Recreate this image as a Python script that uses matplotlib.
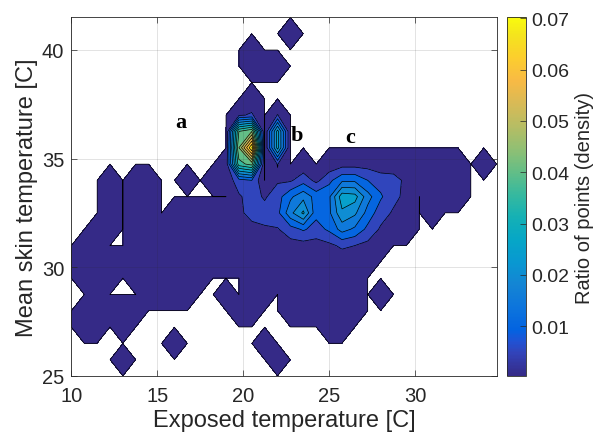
import numpy as np
import matplotlib.pyplot as plt
from matplotlib.colors import LinearSegmentedColormap, Normalize
from matplotlib.cm import ScalarMappable

# grid of the histogram (degrees C)
exposed_temp = np.linspace(10, 34.75, 34)
skin_temp = np.linspace(25, 41.5, 23)

# ratio of points per cell, in units of 1e-3; first row is the top (41.5 C)
density_rows = [
    "0 0 0 0 0 0 0 0 0 0 0 0 0 0 0 0 0 0 0 0 0 0 0 0 0 0 0 0 0 0 0 0 0 0",
    "0 0 0 0 0 0 0 0 0 0 0 0 0 0 0 0 0 1.5 0 0 0 0 0 0 0 0 0 0 0 0 0 0 0 0",
    "0 0 0 0 0 0 0 0 0 0 0 0 0 0 1.5 0 0 0 0 0 0 0 0 0 0 0 0 0 0 0 0 0 0 0",
    "0 0 0 0 0 0 0 0 0 0 0 0 0 0 1.5 1.5 1.5 0 0 0 0 0 0 0 0 0 0 0 0 0 0 0 0 0",
    "0 0 0 0 0 0 0 0 0 0 0 0 0 0 0 0 0 0 0 0 0 0 0 0 0 0 0 0 0 0 0 0 0 0",
    "0 0 0 0 0 0 0 0 0 0 0 0 0 0 1.5 0 0 0 0 0 0 0 0 0 0 0 0 0 0 0 0 0 0 0",
    "0 0 0 0 0 0 0 0 0 0 0 0 0 4.3 5.7 0 5.2 0 0 0 0 0 0 0 0 0 0 0 0 0 0 0 0 0",
    "0 0 0 0 0 0 0 0 0 0 0 0 0 40 45 0 27 0 0 0 0 0 0 0 0 0 0 0 0 0 0 0 0 0",
    "0 0 0 0 0 0 0 0 0 0 0 0 0 45 70.2 0 27 0 0 0 0 0 0 0 0 0 0 0 0 0 0 0 0 0",
    "0 0 0 0 0 0 0 0 0 0 0 0 1.5 38 42 0 5.2 0 1.5 0 1.5 2.9 2.9 2.9 1.5 1.5 1.5 1.5 1.5 1.5 1.5 0 1.5 0",
    "0 0 0 1.5 0 1.5 1.5 0 0 1.5 0 1.5 1.5 7.9 10 0 4.3 4.3 7.9 3.6 8.6 14 14 10 7.9 7.2 3.6 1.5 1.5 1.5 1.5 0 0 0",
    "0 0 0 1.5 0 1.5 1.5 0 0 0 0 0 0 4.3 7.2 4.3 7.9 14 18.5 13 14 28 27 17 10.7 6.4 3.6 0 1.5 1.5 1.5 0 0 0",
    "0 0 0 1.5 0 1.5 1.5 0 1.5 1.5 1.5 1.5 1.5 3.6 7.2 7.2 8.6 18.5 26 11.5 14 24 21 13 7.2 4.3 1.5 0 1.5 0 0 0 0 0",
    "0 0 1.5 1.5 0 1.5 1.5 1.5 1.5 1.5 1.5 1.5 1.5 1.5 2.9 4.3 4.6 7.9 10.7 7.9 11 17 14 8.6 4.3 2.9 1.5 0 0 0 0 0 0 0",
    "0 1.5 1.5 0 0 1.5 1.5 1.5 1.5 1.5 1.5 1.5 1.5 1.5 1.5 1.5 1.5 2.9 2.9 2.9 3.8 6 5 3.6 1.5 0 0 0 0 0 0 0 0 0",
    "0 1.5 1.5 1.5 1.5 1.5 1.5 1.5 1.5 1.5 1.5 1.5 1.5 1.5 1.5 1.5 1.5 1.5 1.5 1.5 1.5 1.5 1.5 1.5 0 0 0 0 0 0 0 0 0 0",
    "0 1.5 1.5 1.5 0 1.5 1.5 1.5 1.5 1.5 1.5 0 0 0 1.5 1.5 1.5 1.5 1.5 1.5 1.5 1.5 1.5 0 0 0 0 0 0 0 0 0 0 0",
    "0 0 1.5 0 0 0 1.5 1.5 1.5 1.5 0 0 1.5 0 1.5 1.5 0 1.5 1.5 1.5 1.5 1.5 1.5 0 1.5 0 0 0 0 0 0 0 0 0",
    "0 1.5 1.5 1.5 1.5 1.5 0 0 0 0 0 0 0 1.5 1.5 0 0 1.5 1.5 1.5 1.5 1.5 1.5 0 0 0 0 0 0 0 0 0 0 0",
    "0 1.5 1.5 0 1.5 0 0 0 0 0 0 0 0 0 0 0 0 0 0 0 1.5 1.5 0 0 0 0 0 0 0 0 0 0 0 0",
    "0 0 0 0 0 0 0 0 1.5 0 0 0 0 0 0 1.5 0 0 0 0 0 0 0 0 0 0 0 0 0 0 0 0 0 0",
    "0 0 0 0 1.5 0 0 0 0 0 0 0 0 0 0 0 1.5 0 0 0 0 0 0 0 0 0 0 0 0 0 0 0 0 0",
    "0 0 0 0 0 0 0 0 0 0 0 0 0 0 0 0 0 0 0 0 0 0 0 0 0 0 0 0 0 0 0 0 0 0",
]

labels = ['a', 'b', 'c']
label_x = [16.4, 23.1, 26.2]
label_y = [36.7, 36.1, 36.0]

rows = [[float(v) for v in r.split()] for r in density_rows]
for r in rows:
    assert len(r) == len(exposed_temp), len(r)
Z = np.array(rows[::-1]) * 1e-3
X, Y = np.meshgrid(exposed_temp, skin_temp)

# parula (matlab default colormap)
parula_pts = [
    (0.2081, 0.1663, 0.5292), (0.1959, 0.2645, 0.7279), (0.1253, 0.3242, 0.8303),
    (0.0117, 0.3875, 0.8820), (0.0498, 0.4586, 0.8641), (0.0793, 0.5200, 0.8312),
    (0.0343, 0.5966, 0.8199), (0.0228, 0.6535, 0.7768), (0.0843, 0.6928, 0.7062),
    (0.2178, 0.7250, 0.6193), (0.3953, 0.7459, 0.5244), (0.5709, 0.7485, 0.4494),
    (0.7184, 0.7411, 0.3905), (0.8507, 0.7299, 0.3360), (0.9739, 0.7314, 0.2666),
    (0.9880, 0.8066, 0.1794), (0.9589, 0.8949, 0.1132), (0.9763, 0.9831, 0.0538),
]
pos = [0, 4, 6, 8, 12, 16, 20, 24, 28, 32, 36, 40, 44, 48, 52, 56, 60, 63]
parula = LinearSegmentedColormap.from_list(
    'parula', [(p / 63, c) for p, c in zip(pos, parula_pts)])

cmin, cmax = 0.0003, 0.0702
levels = [1e-5] + list(np.linspace(0.005, 0.07, 14)) + [0.0706]
band_colors = [parula(max(0, (l - cmin) / (cmax - cmin))) for l in levels[:-1]]

plt.rcParams['font.family'] = 'Liberation Sans'
fig = plt.figure(figsize=(6.06, 4.39), dpi=100)
ax = fig.add_axes([71.3 / 606, 62 / 439, 425.4 / 606, 358.7 / 439])

ax.contourf(X, Y, Z, levels=levels, colors=band_colors)
ax.contour(X, Y, Z, levels=levels[:-1], colors='k', linewidths=0.5)

for t, tx, ty in zip(labels, label_x, label_y):
    ax.text(tx, ty, t, family='Liberation Serif', fontweight='bold',
            fontsize=16, ha='center', va='center')

gray = (0.15, 0.15, 0.15)
ax.set_xlim(10, 34.75)
ax.set_ylim(25, 41.5)
ax.set_xticks([10, 15, 20, 25, 30])
ax.set_yticks([25, 30, 35, 40])
ax.set_axisbelow(False)
ax.grid(True, color=gray, alpha=0.15, linewidth=0.6)
ax.tick_params(direction='in', length=4, width=0.5, colors=gray,
               labelsize=14.5, top=True, right=True)
ax.tick_params(axis='x', pad=7)
ax.tick_params(axis='y', pad=5)
for s in ax.spines.values():
    s.set_color(gray)
    s.set_linewidth(0.6)
ax.set_xlabel('Exposed temperature [C]', fontsize=17, color=gray, labelpad=3)
ax.set_ylabel('Mean skin temperature [C]', fontsize=17, color=gray, labelpad=3)

cax = fig.add_axes([507 / 606, 62 / 439, 19 / 606, 358.7 / 439])
sm = ScalarMappable(norm=Normalize(cmin, cmax), cmap=parula)
cb = fig.colorbar(sm, cax=cax, ticks=[0.01, 0.02, 0.03, 0.04, 0.05, 0.06, 0.07])
cb.ax.set_yticklabels(['0.01', '0.02', '0.03', '0.04', '0.05', '0.06', '0.07'])
cb.ax.tick_params(direction='in', length=4, width=0.5, colors=gray,
                  labelsize=14, pad=4)
cb.outline.set_edgecolor(gray)
cb.outline.set_linewidth(0.6)
cb.set_label('Ratio of points (density)', fontsize=14.5, color=gray)

fig.savefig('out.png', dpi=100)
